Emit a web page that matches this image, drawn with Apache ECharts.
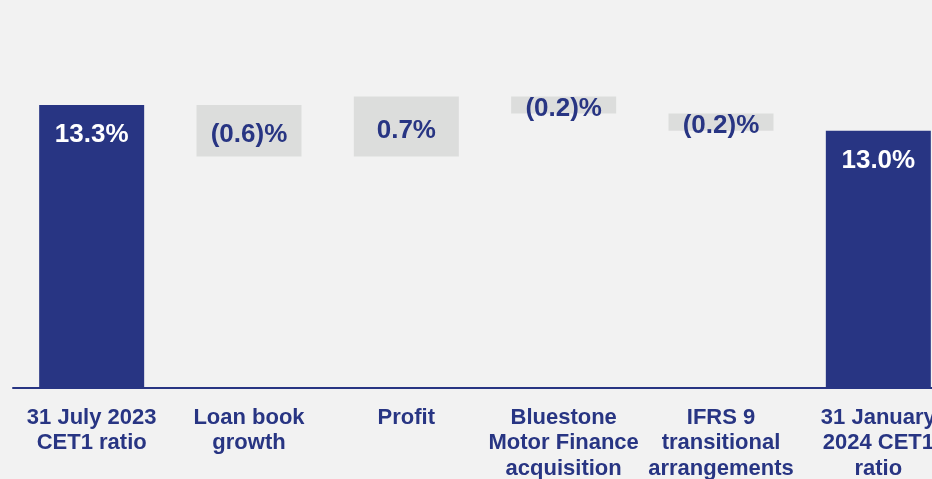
<!DOCTYPE html>
<html>
<head>
<meta charset="utf-8">
<script src="https://cdn.jsdelivr.net/npm/echarts@6/dist/echarts.min.js"></script>
<style>
  html, body { margin: 0; padding: 0; background: #f2f2f2; }
  #chart { width: 932px; height: 479px; }
</style>
</head>
<body>
<div id="chart"></div>
<script>
// CET1 ratio bridge
const categories = [
  '31 July 2023\nCET1 ratio',
  'Loan book\ngrowth',
  'Profit',
  'Bluestone\nMotor Finance\nacquisition',
  'IFRS 9\ntransitional\narrangements',
  '31 January\n2024 CET1\nratio'
];
const changes = [13.3, -0.6, 0.7, -0.2, -0.2, 13.0];
const isTotal = [true, false, false, false, false, true];

const navy = '#283583';
const grey = '#dcdddc';

// build floating bars from the running total
const baseData = [];
const barData = [];
let running = 0;
changes.forEach((v, i) => {
  if (isTotal[i]) {
    baseData.push(0);
    barData.push({
      value: v,
      raw: v,
      itemStyle: { color: navy },
      label: { position: 'insideTop', distance: 17, color: '#ffffff' }
    });
    running = v;
  } else {
    const next = running + v;
    baseData.push(Math.min(running, next));
    barData.push({
      value: Math.abs(v),
      raw: v,
      itemStyle: { color: grey },
      label: { position: 'inside', offset: [0, 4], color: navy }
    });
    running = next;
  }
});

const fmt = (v) => v < 0 ? '(' + Math.abs(v).toFixed(1) + ')%' : v.toFixed(1) + '%';

const chart = echarts.init(document.getElementById('chart'));
chart.setOption({
  backgroundColor: '#f2f2f2',
  animation: false,
  // last category runs past the right edge, as in the slide
  grid: { left: 13, width: 944, top: 45, bottom: 91, outerBoundsMode: 'none', containLabel: false },
  xAxis: {
    type: 'category',
    data: categories,
    axisLine: { lineStyle: { color: navy, width: 2 } },
    axisTick: { show: false },
    axisLabel: {
      interval: 0,
      margin: 17,
      color: navy,
      fontFamily: 'Liberation Sans, Arial, sans-serif',
      fontWeight: 'bold',
      fontSize: 22,
      lineHeight: 25.5
    }
  },
  yAxis: {
    type: 'value',
    min: 10,
    max: 14,
    show: false
  },
  series: [
    {
      type: 'bar',
      stack: 'bridge',
      data: baseData,
      barWidth: 105,
      itemStyle: { color: 'transparent' },
      silent: true
    },
    {
      type: 'bar',
      stack: 'bridge',
      data: barData,
      barWidth: 105,
      label: {
        show: true,
        fontFamily: 'Liberation Sans, Arial, sans-serif',
        fontWeight: 'bold',
        fontSize: 26,
        formatter: (p) => fmt(p.data.raw)
      }
    }
  ]
});
</script>
</body>
</html>
